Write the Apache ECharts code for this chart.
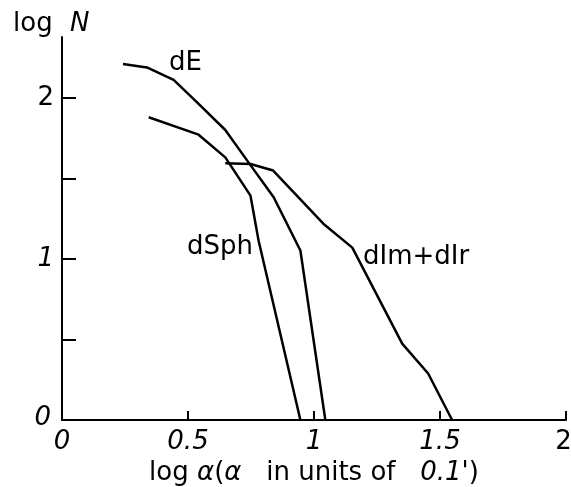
<!DOCTYPE html>
<html>
<head>
<meta charset="utf-8">
<script src="https://cdn.jsdelivr.net/npm/echarts@6/dist/echarts.min.js"></script>
<style>
  html, body { margin: 0; padding: 0; background: #fff; }
  #chart { width: 571px; height: 487px; }
</style>
</head>
<body>
<div id="chart"></div>
<script>
// [log alpha, log N]
const dE = [[0.242, 2.212], [0.337, 2.191], [0.443, 2.113], [0.536, 1.974],
  [0.648, 1.802], [0.740, 1.601], [0.840, 1.384], [0.946, 1.053], [1.045, 0]];
const dSph = [[0.344, 1.881], [0.542, 1.773], [0.648, 1.632], [0.748, 1.394],
  [0.780, 1.115], [0.946, 0]];
const dImIr = [[0.648, 1.595], [0.748, 1.591], [0.838, 1.550], [1.037, 1.220],
  [1.152, 1.071], [1.350, 0.475], [1.453, 0.289], [1.548, 0]];

const yTickValues = [0.5, 1, 1.5, 2];
const yLabelValues = [0, 1, 2];

const FONT = "'DejaVu Sans'";
const SIZE = 26;

const chart = echarts.init(document.getElementById('chart'));

// most tick labels are italic, the "2" ones are upright
function tickLabel(prefix) {
  return (v) => {
    if (v === 2) return `{${prefix}up|2}`;
    if (v === 0) return `{${prefix}0|0}`;
    return `{it|${v}}`;
  };
}

const italic = {fontFamily: FONT, fontSize: SIZE, fontStyle: 'italic', color: '#000'};
const upright = {fontFamily: FONT, fontSize: SIZE, color: '#000'};

const lineSeries = (name, data) => ({
  name: name,
  type: 'line',
  data: data,
  symbol: 'none',
  lineStyle: {color: '#000', width: 2.5},
  animation: false
});

chart.setOption({
  animation: false,
  grid: {left: 62, right: 5, top: 37, bottom: 67, outerBoundsMode: 'none'},
  xAxis: {
    type: 'value',
    min: 0,
    max: 2,
    interval: 0.5,
    splitLine: {show: false},
    axisLine: {lineStyle: {color: '#000', width: 2}},
    axisTick: {inside: true, length: 9, lineStyle: {color: '#000', width: 2}},
    axisLabel: {
      margin: 9,
      formatter: tickLabel('x'),
      rich: {
        it: italic,
        x0: italic,
        xup: Object.assign({}, upright, {padding: [0, 5, 0, 0]})
      }
    },
    name: 'log {it|α}({it|α}   in units of   {it|0.1\'})',
    nameLocation: 'middle',
    nameGap: 35,
    nameTextStyle: Object.assign({}, upright, {rich: {it: italic}})
  },
  yAxis: {
    type: 'value',
    min: 0,
    max: 2.38,
    splitLine: {show: false},
    axisLine: {lineStyle: {color: '#000', width: 2}},
    axisTick: {inside: true, length: 14, customValues: yTickValues,
      lineStyle: {color: '#000', width: 2}},
    axisLabel: {
      margin: 8,
      customValues: yLabelValues,
      formatter: tickLabel('y'),
      rich: {
        it: italic,
        y0: Object.assign({}, italic, {padding: [0, 3, 4, 0]}),
        yup: upright
      }
    }
  },
  graphic: [
    {
      type: 'text', x: 13, y: 24,
      style: {
        text: '{a|log }{n|N}', verticalAlign: 'middle', textVerticalAlign: 'middle',
        rich: {
          a: upright,
          n: Object.assign({}, italic, {padding: [0, 0, 0, 9]})
        }
      }
    },
    {type: 'text', x: 169, y: 63,
      style: {text: 'dE', font: `${SIZE}px ${FONT}`, fill: '#000', verticalAlign: 'middle', textVerticalAlign: 'middle'}},
    {type: 'text', x: 187, y: 247,
      style: {text: 'dSph', font: `${SIZE}px ${FONT}`, fill: '#000', verticalAlign: 'middle', textVerticalAlign: 'middle'}},
    {type: 'text', x: 363, y: 257,
      style: {text: 'dIm+dIr', font: `${SIZE}px ${FONT}`, fill: '#000', verticalAlign: 'middle', textVerticalAlign: 'middle'}}
  ],
  series: [
    lineSeries('dE', dE),
    lineSeries('dSph', dSph),
    lineSeries('dIm+dIr', dImIr)
  ]
});
</script>
</body>
</html>
